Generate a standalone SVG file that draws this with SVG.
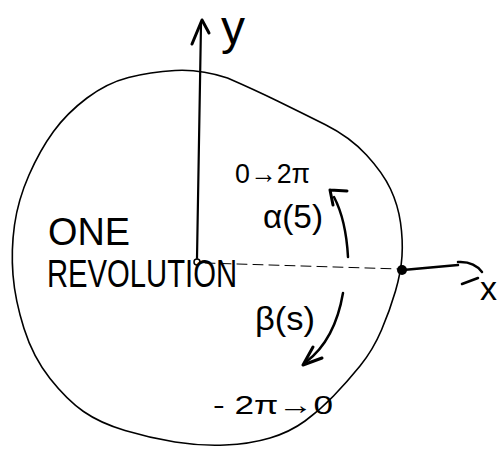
<svg xmlns="http://www.w3.org/2000/svg" width="503" height="459" viewBox="0 0 503 459">
<style>
.ink{fill:none;stroke:#000;stroke-linecap:round;stroke-linejoin:round}
.lbl{font-family:"Liberation Sans","DejaVu Sans",sans-serif;fill:#000}
</style>
<rect width="503" height="459" fill="#fff"/>
<g id="circle">
<path class="ink" stroke-width="1.6" d="M175,70.5 Q200,69 227.5,78 Q255,90 277.5,101 Q300,112 325,124.5 Q350,137 366.5,155 Q383,173 390.5,189 Q398,205 400.5,222.5 Q403,240 402,256 Q401,272 395.5,291 Q390,310 381.5,330 Q373,350 360,366 Q347,382 333.5,396 Q320,410 305,421 Q290,432 270,438 Q250,444 225,445 Q200,446 175,442 Q150,438 125,430.5 Q100,423 83.5,411.5 Q67,400 50,378.5 Q33,357 24,328.5 Q15,300 13,275 Q11,250 14.5,225 Q18,200 29,175 Q40,150 53.5,131.5 Q67,113 87,98 Q107,83 128.5,77.5 Q150,72 175,70.5 Z"/>
</g>
<g id="connectors">
<path class="ink" stroke-width="2.2" d="M197,258 L201,24"/>
<path class="ink" stroke-width="3" d="M192,44 L202,20 L209,33"/>
<path class="ink" stroke-width="1" stroke="#555" stroke-dasharray="10,6" d="M205,263 L400,269"/>
<path class="ink" stroke-width="2.5" d="M403,270 L458,265"/>
<path class="ink" stroke-width="2.5" d="M458,262 Q474,261 482,272 M462,284 L478,278"/>
<path class="ink" stroke-width="2.5" d="M348,257 Q346,220 334,197"/>
<path class="ink" stroke-width="3" d="M330,190 L347,191 M330,190 L333,205"/>
<path class="ink" stroke-width="2.5" d="M343,293 Q335,340 306,362"/>
<path class="ink" stroke-width="3" d="M303,365 L313,347 M303,365 L322,358"/>
</g>
<g id="origin"><circle cx="197" cy="262" r="3" fill="#fff" stroke="#000" stroke-width="1.5"/></g>
<g id="x-intercept"><circle cx="402" cy="270" r="5" fill="#000"/></g>
<g id="label-y"><text class="lbl" x="221" y="44" font-size="48">y</text></g>
<g id="label-x"><text class="lbl" x="480" y="300" font-size="34">x</text></g>
<g id="label-one"><text class="lbl" x="48" y="245" font-size="38" textLength="82" lengthAdjust="spacingAndGlyphs">ONE</text></g>
<g id="label-revolution"><text class="lbl" x="47" y="287" font-size="38" textLength="190" lengthAdjust="spacingAndGlyphs">REVOLUTION</text></g>
<g id="label-alpha-range"><text class="lbl" x="235" y="183" font-size="28" textLength="75" lengthAdjust="spacingAndGlyphs">0→2π</text></g>
<g id="label-alpha"><text class="lbl" x="263" y="228" font-size="34" textLength="60" lengthAdjust="spacingAndGlyphs">α(5)</text></g>
<g id="label-beta"><text class="lbl" x="255" y="330" font-size="34" textLength="60" lengthAdjust="spacingAndGlyphs">β(s)</text></g>
<g id="label-beta-range"><text class="lbl" x="213" y="414" font-size="26" textLength="120" lengthAdjust="spacingAndGlyphs">- 2π→0</text></g>
</svg>
